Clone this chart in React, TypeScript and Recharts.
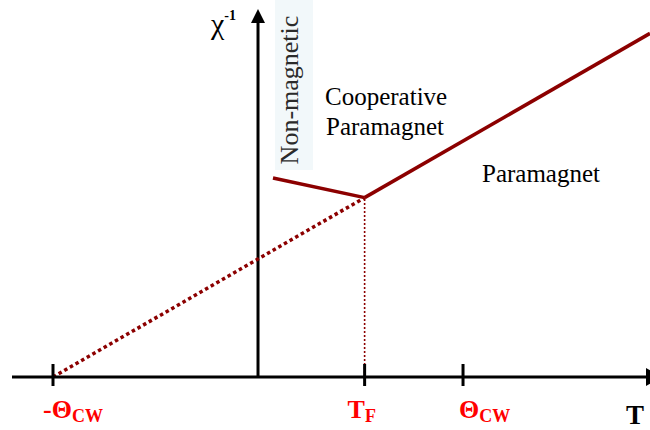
import React from 'react';
import { LineChart, Line, XAxis, YAxis, ReferenceLine, ReferenceDot } from 'recharts';

// temperature axis in units of Θ_CW, χ⁻¹ in units of Θ_CW / C
const T_MIN = -1.2;
const T_MAX = 1.912;
const CHI_MAX = 3;

const tickTemps = [-1, 0.52, 1];
const tickMain = ['-Θ', 'T', 'Θ'];
const tickSub = ['CW', 'F', 'CW'];

// Curie–Weiss law χ⁻¹ = (T + Θ_CW) / C, extrapolated below T_F
const curieWeissBelow = [
  { T: -1, chi: 0 },
  { T: 0.52, chi: 1.52 },
];
const curieWeissAbove = [
  { T: 0.52, chi: 1.52 },
  { T: 1.912, chi: 2.912 },
];
// cooperative paramagnet branch below the freezing temperature
const cooperative = [
  { T: 0.073, chi: 1.686 },
  { T: 0.52, chi: 1.52 },
];
const freezingDrop = [
  { T: 0.52, chi: 0 },
  { T: 0.52, chi: 1.52 },
];

const serif = { fontFamily: 'Liberation Serif, Times New Roman, serif' };
const LINE_RED = '#8c0000';
const tickDx = [-10, -17, -4];

function TempTick(props: any) {
  const { x, y, payload } = props;
  const i = tickTemps.indexOf(payload.value);
  return (
    <g>
      <line x1={x} x2={x} y1={y - 13} y2={y + 9} stroke="#000" strokeWidth={3} />
      <text x={x + tickDx[i]} y={y + 41} fill="#ff0000" fontWeight="bold" fontSize={26} style={serif}>
        {tickMain[i]}
        <tspan fontSize={18} dy={4}>
          {tickSub[i]}
        </tspan>
      </text>
    </g>
  );
}

const UpArrow = (props: any) => (
  <polygon
    points={`${props.cx - 7},${props.cy} ${props.cx + 7},${props.cy} ${props.cx},${props.cy - 14}`}
    fill="#000"
  />
);

const RightArrow = (props: any) => (
  <polygon
    points={`${props.cx - 4},${props.cy - 9} ${props.cx - 4},${props.cy + 9} ${props.cx + 12},${props.cy}`}
    fill="#000"
  />
);

export default function App() {
  return (
    <div style={{ position: 'absolute', left: 0, top: 0, width: 650, height: 430, background: '#fff' }}>
      <LineChart width={650} height={430} margin={{ top: 23, right: 0, bottom: 0, left: 12 }}>
        <rect x={275} y={0} width={38} height={170} fill="#f2f8fa" />
        <XAxis
          type="number"
          dataKey="T"
          domain={[T_MIN, T_MAX]}
          allowDataOverflow
          ticks={tickTemps}
          interval={0}
          height={53}
          tickSize={0}
          tickMargin={0}
          tickLine={false}
          axisLine={{ stroke: '#000', strokeWidth: 3 }}
          tick={<TempTick />}
        />
        <YAxis type="number" dataKey="chi" domain={[0, CHI_MAX]} hide allowDataOverflow />
        <ReferenceLine x={0} stroke="#000" strokeWidth={3} />
        <ReferenceDot x={0} y={CHI_MAX} r={0} shape={<UpArrow />} ifOverflow="visible" />
        <ReferenceDot x={T_MAX} y={0} r={0} shape={<RightArrow />} ifOverflow="visible" />

        <Line
          data={freezingDrop}
          dataKey="chi"
          type="linear"
          stroke={LINE_RED}
          strokeWidth={1.6}
          strokeDasharray="2 2"
          dot={false}
          isAnimationActive={false}
        />
        <Line
          data={curieWeissBelow}
          dataKey="chi"
          type="linear"
          stroke={LINE_RED}
          strokeWidth={3.5}
          strokeDasharray="3.5 3"
          dot={false}
          isAnimationActive={false}
        />
        <Line
          data={curieWeissAbove}
          dataKey="chi"
          type="linear"
          stroke={LINE_RED}
          strokeWidth={3.5}
          dot={false}
          isAnimationActive={false}
        />
        <Line
          data={cooperative}
          dataKey="chi"
          type="linear"
          stroke={LINE_RED}
          strokeWidth={3.5}
          dot={false}
          isAnimationActive={false}
        />

        <text x={211} y={34} fontSize={30} fill="#000" style={serif}>
          χ
          <tspan fontSize={14} fontWeight="bold" dy={-14}>
            -1
          </tspan>
        </text>
        <text
          x={298}
          y={90}
          transform="rotate(-90 298 90)"
          textAnchor="middle"
          fontSize={26}
          fill="#2b2b2b"
          style={serif}
        >
          Non-magnetic
        </text>
        <text x={325} y={105} fontSize={25} fill="#000" style={serif}>
          Cooperative
        </text>
        <text x={326} y={135} fontSize={25} fill="#000" style={serif}>
          Paramagnet
        </text>
        <text x={482} y={182} fontSize={25} fill="#000" style={serif}>
          Paramagnet
        </text>
        <text x={626} y={424} fontSize={27} fontWeight="bold" fill="#000" style={serif}>
          T
        </text>
      </LineChart>
    </div>
  );
}
